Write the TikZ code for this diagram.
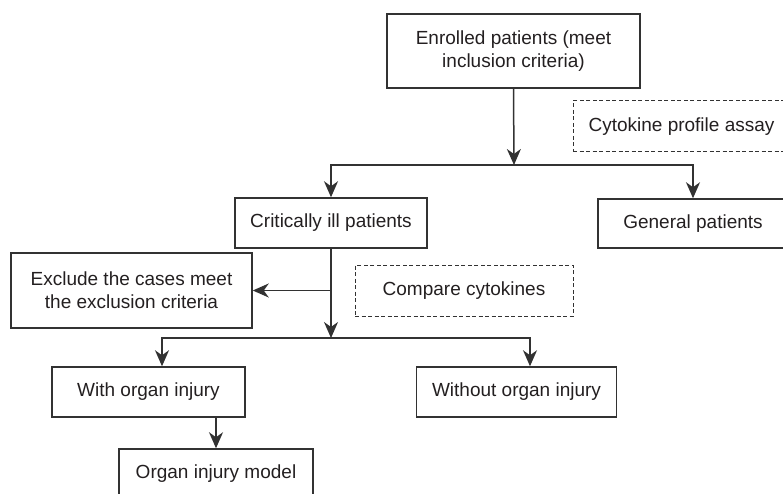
\documentclass[tikz,border=0pt]{standalone}
\usepackage{fontspec}
\setmainfont{Liberation Sans}
\usetikzlibrary{arrows.meta}
\definecolor{txt}{RGB}{35,31,32}
\definecolor{ln}{RGB}{50,50,50}
\begin{document}
\begin{tikzpicture}[x=1pt,y=-1pt,
  box/.style={draw=ln, line width=1.5pt, text=txt, inner sep=0pt, align=center,
    font=\fontsize{19}{23}\selectfont},
  dbox/.style={box, line width=1pt, dash pattern=on 4pt off 2.5pt},
  arr/.style={draw=ln, line width=1.5pt, -{Stealth[length=16pt,width=14pt,inset=5pt]}}]
\useasboundingbox (0,0) rectangle (783,494);
\clip (0,0) rectangle (783,494);
\node[box, minimum width=253pt, minimum height=74pt] (enr) at (513.5,51) {Enrolled patients (meet\\inclusion criteria)};
\node[dbox, minimum width=217pt, minimum height=51pt] (cyto) at (681.5,126.5) {Cytokine profile assay};
\node[box, minimum width=190pt, minimum height=49pt] (gen) at (693,223.5) {General patients};
\node[box, minimum width=192pt, minimum height=50pt] (crit) at (331,223) {Critically ill patients};
\node[box, minimum width=241pt, minimum height=75pt] (excl) at (131.5,290.5) {Exclude the cases meet\\the exclusion criteria};
\node[dbox, minimum width=218pt, minimum height=51pt] (comp) at (464,290.5) {Compare cytokines};
\node[box, minimum width=193pt, minimum height=50pt] (with) at (148.5,392) {With organ injury};
\node[box, minimum width=200pt, minimum height=50pt] (without) at (516.5,392) {Without organ injury};
\node[box, minimum width=194pt, minimum height=50pt] (model) at (216,474) {Organ injury model};
\coordinate (j1) at (514,165);
\coordinate (j2) at (331,338);
\draw[arr] (enr.south) -- (j1);
\draw[arr] (j1) -| (crit.north);
\draw[arr] (j1) -| (gen.north);
\draw[arr] (crit.south) -- (j2);
\draw[arr] (crit.south |- excl.east) -- (excl.east);
\draw[arr] (j2) -| ([xshift=13.5pt]with.north);
\draw[arr] (j2) -| ([xshift=13.5pt]without.north);
\draw[arr] (model.north |- with.south) -- (model.north);
\end{tikzpicture}
\end{document}
